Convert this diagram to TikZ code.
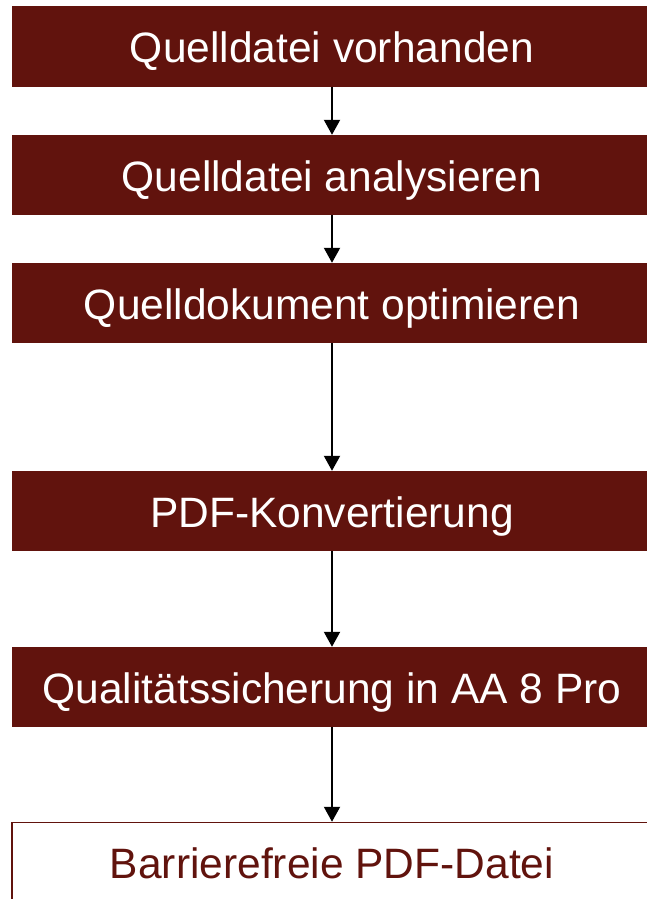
\documentclass[tikz,border=0pt]{standalone}
\usepackage{fontspec}
\setmainfont{Liberation Sans}
\usetikzlibrary{arrows.meta}
\definecolor{boxred}{RGB}{97,19,13}
\tikzset{
  basebox/.style={rectangle, minimum width=640pt, minimum height=80pt, inner sep=0pt, text height=32pt, text depth=0pt, font=\fontsize{42.5}{48}\selectfont},
  stepbox/.style={basebox, fill=boxred, text=white},
  endbox/.style={basebox, draw=boxred, line width=1.5pt, fill=white, text=boxred},
  flow/.style={line width=2pt, -{Triangle[width=16pt,length=15pt]}}
}
\begin{document}
\begin{tikzpicture}[x=1pt,y=-1pt]
\useasboundingbox (0,0) rectangle (647,899);
\node[stepbox] (n1) at (332,46.5) {Quelldatei vorhanden};
\node[stepbox] (n2) at (332,175) {Quelldatei analysieren};
\node[stepbox] (n3) at (332,303) {Quelldokument optimieren};
\node[stepbox] (n4) at (332,511) {PDF-Konvertierung};
\node[stepbox] (n5) at (332,687) {Qualitätssicherung in AA 8 Pro};
\node[endbox] (n6) at (332,862.5) {Barrierefreie PDF-Datei};
\draw[flow] (n1) -- (n2);
\draw[flow] (n2) -- (n3);
\draw[flow] (n3) -- (n4);
\draw[flow] (n4) -- (n5);
\draw[flow] (n5) -- (n6);
\end{tikzpicture}
\end{document}
